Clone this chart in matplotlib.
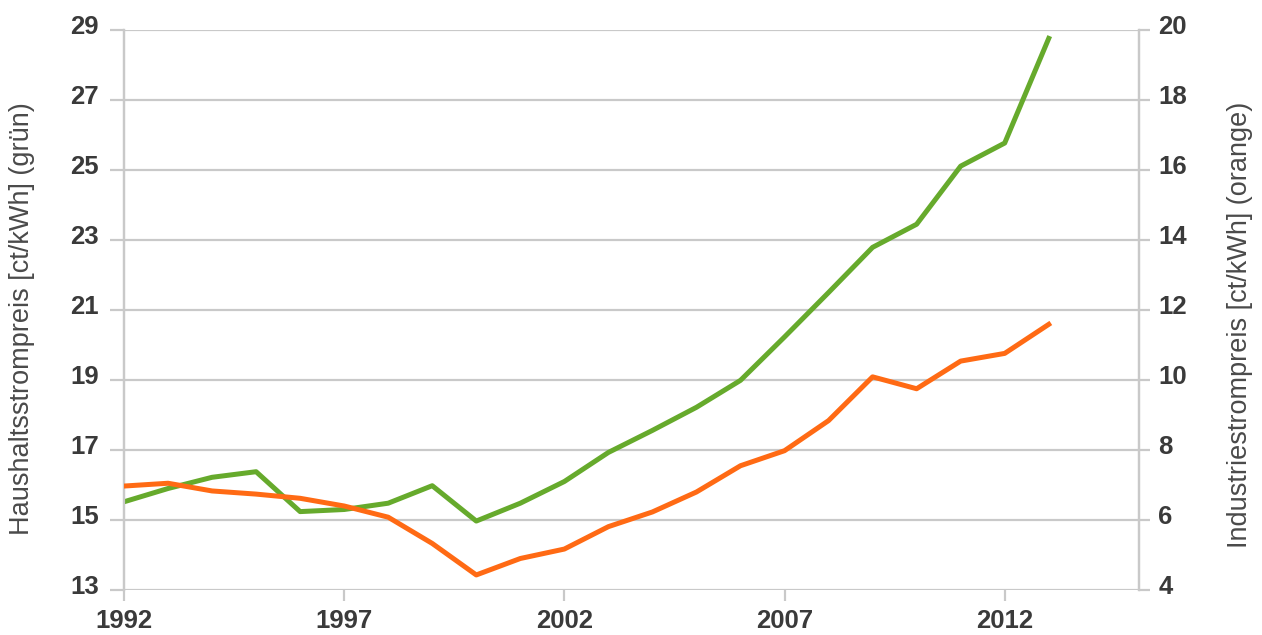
import matplotlib
matplotlib.use("Agg")
import matplotlib.pyplot as plt
from matplotlib.transforms import ScaledTranslation

# Strompreise in Deutschland
years = list(range(1992, 2014))
haushalt = [15.52, 15.90, 16.22, 16.38, 15.24, 15.30, 15.48, 15.98, 14.97, 15.48,
            16.10, 16.93, 17.56, 18.22, 18.99, 20.23, 21.50, 22.79, 23.45, 25.11,
            25.77, 28.76]
industrie = [6.97, 7.05, 6.83, 6.74, 6.62, 6.40, 6.08, 5.33, 4.43, 4.90,
             5.17, 5.81, 6.23, 6.80, 7.55, 7.98, 8.84, 10.09, 9.75, 10.54,
             10.76, 11.59]

x_ticks = [1992, 1997, 2002, 2007, 2012]
left_ticks = [13, 15, 17, 19, 21, 23, 25, 27, 29]
right_ticks = [4, 6, 8, 10, 12, 14, 16, 18, 20]

label_left = "Haushaltsstrompreis [ct/kWh] (grün)"
label_right = "Industriestrompreis [ct/kWh] (orange)"

GREEN = "#66AA2C"
ORANGE = "#FF6A14"
GRID = "#C9C9C9"
TEXT = "#3A3A3A"

plt.rcParams["font.family"] = ["Liberation Sans", "DejaVu Sans"]

fig = plt.figure(figsize=(12.62, 6.35), dpi=100)
ax = fig.add_axes([124 / 1262, 1 - 590 / 635, (1139 - 124) / 1262, (590 - 30) / 635])
ax2 = ax.twinx()

ax.set_xlim(1992, 2015.05)
ax.set_ylim(13, 29)
ax2.set_ylim(4, 20)

# horizontal grid from the left scale
ax.set_yticks(left_ticks)
ax.grid(axis="y", color=GRID, linewidth=1.6)
ax.set_axisbelow(True)
ax2.set_yticks(right_ticks)

ax.set_xticks(x_ticks)

ax.plot(years, haushalt, color=GREEN, linewidth=3.6, zorder=5)
ax2.plot(years, industrie, color=ORANGE, linewidth=3.6, zorder=5)

for a in (ax, ax2):
    for side in ("top", "bottom"):
        a.spines[side].set_visible(False)
    for side in ("left", "right"):
        a.spines[side].set_color(GRID)
        a.spines[side].set_linewidth(1.6)
    a.set_facecolor("none")

ax.tick_params(axis="y", length=10, width=1.6, color=GRID, labelsize=18.5,
               labelcolor=TEXT, pad=8)
ax2.tick_params(axis="y", length=8, width=1.6, color=GRID, labelsize=18.5,
                labelcolor=TEXT, pad=6)
ax.tick_params(axis="x", length=8, width=1.6, color=GRID, labelsize=18.5,
               labelcolor=TEXT, pad=6)

# tick numbers sit slightly above their grid lines
shift = ScaledTranslation(0, 5 / 100, fig.dpi_scale_trans)
for lab in ax.get_yticklabels() + ax2.get_yticklabels():
    lab.set_transform(lab.get_transform() + shift)
for lab in ax.get_yticklabels() + ax2.get_yticklabels() + ax.get_xticklabels():
    lab.set_fontweight("bold")

fig.text(22 / 1262, 1 - 319 / 635, label_left, rotation=90, ha="center",
         va="center", fontsize=19.5, color="#4A4A4A")
fig.text(1240 / 1262, 1 - 325 / 635, label_right, rotation=90, ha="center",
         va="center", fontsize=19.5, color="#4A4A4A")

fig.savefig("out.png", dpi=100, facecolor="white")
